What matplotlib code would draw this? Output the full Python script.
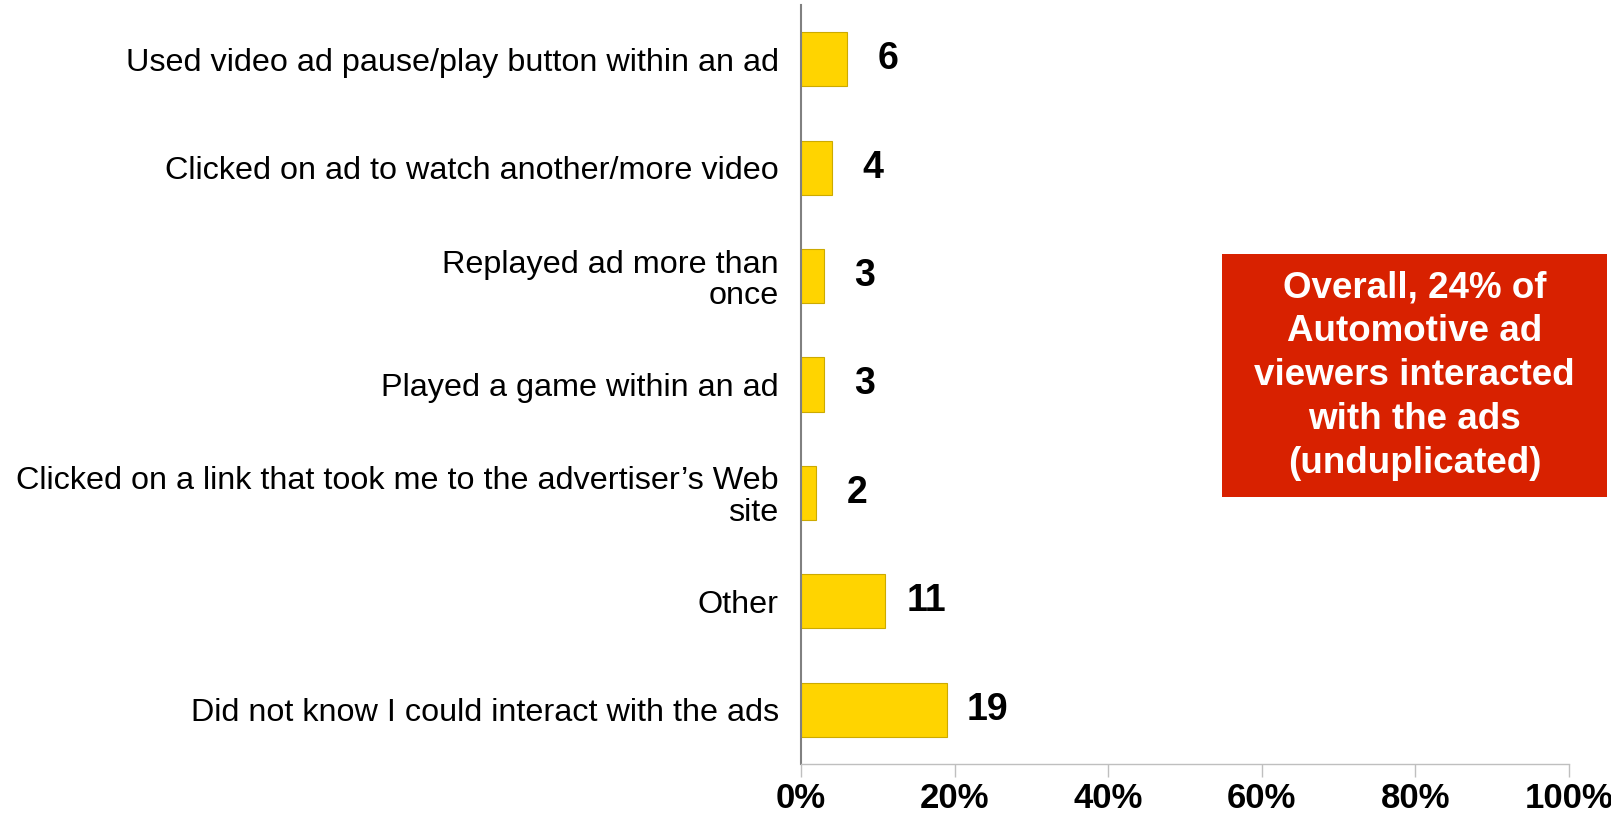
import matplotlib
matplotlib.use('Agg')
import matplotlib.pyplot as plt
from matplotlib.ticker import FuncFormatter
from matplotlib import rcParams

rcParams['font.family'] = ['Liberation Sans', 'DejaVu Sans']

# Ad interaction types among automotive ad viewers (%)
actions = [
    "Used video ad pause/play button within an ad",
    "Clicked on ad to watch another/more video",
    "Replayed ad more than\nonce",
    "Played a game within an ad",
    "Clicked on a link that took me to the advertiser\u2019s Web\nsite",
    "Other",
    "Did not know I could interact with the ads",
]
shares = [6, 4, 3, 3, 2, 11, 19]
x_ticks = [0, 20, 40, 60, 80, 100]

callout_text = ("Overall, 24% of\nAutomotive ad\nviewers interacted\n"
                "with the ads\n(unduplicated)")

fig = plt.figure(figsize=(16.11, 8.17), dpi=100)
ax = fig.add_axes([0.4972, 0.0649, 0.4767, 0.929])

positions = list(range(len(actions)))
ax.barh(positions, shares, height=0.5, color='#FFD400',
        edgecolor='#CCAA00', linewidth=0.8)

# value labels to the right of each bar
for pos, val in zip(positions, shares):
    ax.text(val + 5.3, pos, str(val), ha='center', va='center',
            fontsize=27, fontweight='bold', color='black')

ax.set_ylim(len(actions) - 0.5, -0.5)
ax.set_xlim(0, 100)
ax.set_yticks(positions)
ax.set_yticklabels(actions, fontsize=23.3, ha='right', linespacing=1.05)
ax.tick_params(axis='y', length=0, pad=16)

ax.set_xticks(x_ticks)
ax.xaxis.set_major_formatter(FuncFormatter(lambda v, p: f"{v:.0f}%"))
ax.tick_params(axis='x', direction='out', length=9, width=1,
               color='#BFBFBF', pad=4, labelsize=25)
for lbl in ax.get_xticklabels():
    lbl.set_fontweight('bold')

for side in ['top', 'right']:
    ax.spines[side].set_visible(False)
ax.spines['left'].set_color('#808080')
ax.spines['left'].set_linewidth(1.5)
ax.spines['bottom'].set_color('#BFBFBF')
ax.spines['bottom'].set_linewidth(1)

# red call-out box on the right
box = fig.add_axes([1222 / 1611, 1 - 497 / 817, 385 / 1611, 243 / 817])
box.set_facecolor('#D82100')
box.set_xticks([])
box.set_yticks([])
for s in box.spines.values():
    s.set_visible(False)
box.text(0.5, 0.5, callout_text, ha='center', va='center', color='white',
         fontsize=26.5, fontweight='bold', linespacing=1.33,
         transform=box.transAxes)

fig.savefig('out.png', dpi=100)
